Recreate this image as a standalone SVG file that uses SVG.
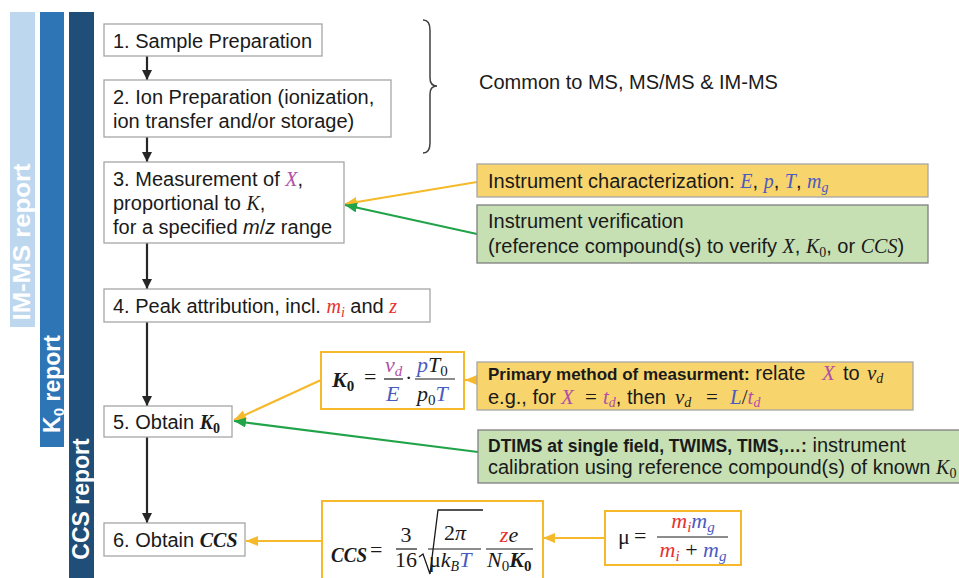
<svg xmlns="http://www.w3.org/2000/svg" width="959" height="578" viewBox="0 0 959 578">
<defs>
<style>
.box{fill:#fff;stroke:#a6a6a6;stroke-width:1.3}
.fbox{fill:#fff;stroke:#f6b92b;stroke-width:2}
.ybox{fill:#f8d46c;stroke:#a6a6a6;stroke-width:1.3}
.gbox{fill:#c6e0b4;stroke:#7f7f7f;stroke-width:1.3}
.t{font-family:"Liberation Sans",Arial,sans-serif;font-size:20px;fill:#1a1a1a}
.b{font-weight:bold}
.m{font-family:"Liberation Serif","Times New Roman",serif;font-style:italic}
.r{font-family:"Liberation Serif","Times New Roman",serif;font-style:normal}
.pu{fill:#b04fa6}
.bl{fill:#4a5bbf}
.rd{fill:#e8302f}
.lab{font-family:"Liberation Sans",Arial,sans-serif;font-size:23px;font-weight:bold;fill:#fff;text-anchor:middle}
.ka{stroke:#262626;stroke-width:2.2;fill:none}
.oa{stroke:#f6b92b;stroke-width:2.2;fill:none}
.ga{stroke:#21a349;stroke-width:2.2;fill:none}
.fl{stroke:#1a1a1a;stroke-width:1.2}
</style>
<marker id="ak" markerUnits="userSpaceOnUse" markerWidth="12" markerHeight="12" refX="10" refY="5" orient="auto"><path d="M0,0 L10,5 L0,10 Z" fill="#262626"/></marker>
<marker id="ao" markerUnits="userSpaceOnUse" markerWidth="14" markerHeight="12" refX="12" refY="5" orient="auto"><path d="M0,0 L12,5 L0,10 Z" fill="#f6b92b"/></marker>
<marker id="ag" markerUnits="userSpaceOnUse" markerWidth="14" markerHeight="12" refX="12" refY="5" orient="auto"><path d="M0,0 L12,5 L0,10 Z" fill="#21a349"/></marker>
</defs>
<rect width="959" height="578" fill="#fff"/>

<g id="bar-imms">
<rect x="10" y="12" width="25" height="315" fill="#bdd7ee"/>
<text class="lab" transform="translate(30,242) rotate(-90)" textLength="157" lengthAdjust="spacingAndGlyphs">IM-MS report</text>
</g>
<g id="bar-k0">
<rect x="40" y="12" width="24" height="435" fill="#2e75b6"/>
<text class="lab" transform="translate(60,384) rotate(-90)">K<tspan font-size="15" dy="4">0</tspan><tspan dy="-4"> report</tspan></text>
</g>
<g id="bar-ccs">
<rect x="69" y="12" width="25" height="566" fill="#1f4e79"/>
<text class="lab" transform="translate(89,499) rotate(-90)">CCS report</text>
</g>

<g id="brace">
<path d="M423,20 Q430,20 430,30 L430,78 Q430,86 437,86 Q430,86 430,94 L430,143 Q430,153 423,153" fill="none" stroke="#404040" stroke-width="1.5"/>
<text class="t" x="479" y="89">Common to MS, MS/MS &amp; IM-MS</text>
</g>

<g id="connectors">
<line class="ka" x1="147" y1="56" x2="147" y2="80" marker-end="url(#ak)"/>
<line class="ka" x1="147" y1="137" x2="147" y2="162" marker-end="url(#ak)"/>
<line class="ka" x1="147" y1="243" x2="147" y2="289" marker-end="url(#ak)"/>
<line class="ka" x1="147" y1="322" x2="147" y2="406" marker-end="url(#ak)"/>
<line class="ka" x1="147" y1="437" x2="147" y2="523" marker-end="url(#ak)"/>
<line class="oa" x1="477" y1="182" x2="345" y2="204" marker-end="url(#ao)"/>
<line class="ga" x1="477" y1="234" x2="345" y2="205" marker-end="url(#ag)"/>
<line class="oa" x1="321" y1="380" x2="234" y2="420" marker-end="url(#ao)"/>
<line class="ga" x1="478" y1="452" x2="234" y2="421" marker-end="url(#ag)"/>
<line class="oa" x1="477" y1="380" x2="465" y2="380" marker-end="url(#ao)"/>
<line class="oa" x1="322" y1="541" x2="246" y2="541" marker-end="url(#ao)"/>
<line class="oa" x1="605" y1="538" x2="543" y2="538" marker-end="url(#ao)"/>
</g>

<g id="step1">
<rect class="box" x="104" y="24" width="218" height="32"/>
<text class="t" x="113" y="48">1. Sample Preparation</text>
</g>
<g id="step2">
<rect class="box" x="104" y="80" width="287" height="57"/>
<text class="t" x="113" y="104">2. Ion Preparation (ionization,</text>
<text class="t" x="113" y="128">ion transfer and/or storage)</text>
</g>
<g id="step3">
<rect class="box" x="104" y="162" width="240" height="81"/>
<text class="t" x="113" y="186">3. Measurement of <tspan class="m pu">X</tspan>,</text>
<text class="t" x="113" y="210">proportional to <tspan class="m">K</tspan>,</text>
<text class="t" x="113" y="234">for a specified <tspan font-style="italic">m</tspan>/<tspan font-style="italic">z</tspan> range</text>
</g>
<g id="step4">
<rect class="box" x="104" y="289" width="326" height="33"/>
<text class="t" x="113" y="313">4. Peak attribution, incl. <tspan class="m rd">m</tspan><tspan class="m rd" font-size="14" dy="4">i</tspan><tspan dy="-4"> and </tspan><tspan class="m rd">z</tspan></text>
</g>
<g id="step5">
<rect class="box" x="104" y="406" width="128" height="31"/>
<text class="t" x="113" y="429">5. Obtain <tspan class="m b">K</tspan><tspan class="r b" font-size="14" dy="4">0</tspan></text>
</g>
<g id="step6">
<rect class="box" x="104" y="523" width="141" height="33"/>
<text class="t" x="113" y="547">6. Obtain <tspan class="m b">CCS</tspan></text>
</g>

<g id="instr-char">
<rect class="ybox" x="477" y="164" width="451" height="33"/>
<text class="t" x="488" y="188">Instrument characterization: <tspan class="m bl">E</tspan>, <tspan class="m bl">p</tspan>, <tspan class="m bl">T</tspan>, <tspan class="m bl">m</tspan><tspan class="m bl" font-size="14" dy="4">g</tspan></text>
</g>
<g id="instr-verif">
<rect class="gbox" x="477" y="205" width="451" height="58"/>
<text class="t" x="488" y="228">Instrument verification</text>
<text class="t" x="488" y="253">(reference compound(s) to verify <tspan class="m">X</tspan>, <tspan class="m">K</tspan><tspan class="r" font-size="14" dy="4">0</tspan><tspan dy="-4">, or </tspan><tspan class="m">CCS</tspan>)</text>
</g>

<g id="k0-formula">
<rect class="fbox" x="321" y="352" width="143" height="57"/>
<text class="m b" x="332" y="387" font-size="22" fill="#1a1a1a">K<tspan class="r b" font-size="15" dy="4">0</tspan></text>
<text class="r" x="364" y="384" font-size="22" fill="#1a1a1a">=</text>
<text class="m pu" x="385" y="372" font-size="22">v<tspan font-size="15" dy="4">d</tspan></text>
<line class="fl" x1="384" y1="379" x2="403" y2="379"/>
<text class="m bl" x="386" y="401" font-size="22">E</text>
<text class="r" x="405" y="385" font-size="22" fill="#1a1a1a">·</text>
<text class="m" x="417" y="372" font-size="22" fill="#1a1a1a"><tspan class="bl">p</tspan>T<tspan class="r" font-size="15" dy="4">0</tspan></text>
<line class="fl" x1="415" y1="379" x2="455" y2="379"/>
<text class="m" x="417" y="401" font-size="22" fill="#1a1a1a">p<tspan class="r" font-size="15" dy="4">0</tspan><tspan class="bl" dy="-4">T</tspan></text>
</g>

<g id="primary-method">
<rect class="ybox" x="477" y="362" width="436" height="48"/>
<text class="t" x="488" y="380"><tspan class="b" font-size="17">Primary method of measurment:</tspan> relate <tspan class="m pu" x="822" font-size="21">X</tspan><tspan x="843">to</tspan><tspan class="m" x="867" font-size="21">v</tspan><tspan class="m" font-size="14" dy="3">d</tspan></text>
<text class="t" x="488" y="404">e.g., for <tspan class="m pu" x="561" font-size="21">X</tspan><tspan class="r" x="585" font-size="21">=</tspan><tspan class="m pu" x="603" font-size="21">t</tspan><tspan class="m pu" font-size="14" dy="3">d</tspan><tspan dy="-3">, then </tspan><tspan class="m" x="675" font-size="21">v</tspan><tspan class="m" font-size="14" dy="3">d</tspan><tspan class="r" x="706" dy="-3" font-size="21">=</tspan><tspan class="m bl" x="730" font-size="21">L</tspan><tspan class="r" font-size="21">/</tspan><tspan class="m pu" font-size="21">t</tspan><tspan class="m pu" font-size="14" dy="3">d</tspan></text>
</g>

<g id="dtims">
<rect class="gbox" x="478" y="430" width="490" height="53"/>
<text class="t" x="488" y="452"><tspan class="b" font-size="17.5">DTIMS at single field, TWIMS, TIMS,…:</tspan> instrument</text>
<text class="t" x="488" y="474">calibration using reference compound(s) of known <tspan class="m">K</tspan><tspan class="r" font-size="14" dy="4">0</tspan></text>
</g>

<g id="ccs-formula">
<rect class="fbox" x="322" y="501" width="221" height="82"/>
<text class="m b" x="331" y="562" font-size="21" fill="#1a1a1a" textLength="36" lengthAdjust="spacingAndGlyphs">CCS</text>
<text class="r" x="370" y="557" font-size="22" fill="#1a1a1a">=</text>
<text class="r" x="406" y="542" font-size="22" fill="#1a1a1a" text-anchor="middle">3</text>
<line class="fl" x1="396" y1="549" x2="417" y2="549"/>
<text class="r" x="406" y="567" font-size="22" fill="#1a1a1a" text-anchor="middle">16</text>
<path d="M419,557 L423,554 L430,574 L438,510 L483,510" fill="none" stroke="#1a1a1a" stroke-width="1.3"/>
<text class="r" x="455" y="540" font-size="22" fill="#1a1a1a" text-anchor="middle">2<tspan class="m">π</tspan></text>
<line class="fl" x1="428" y1="549" x2="481" y2="549"/>
<text class="r" x="429" y="567" font-size="22" fill="#1a1a1a">μ<tspan class="m">k</tspan><tspan class="m" font-size="14" dy="4">B</tspan><tspan class="m bl" dy="-4">T</tspan></text>
<text class="m" x="509" y="542" font-size="22" fill="#1a1a1a" text-anchor="middle"><tspan class="rd">z</tspan>e</text>
<line class="fl" x1="486" y1="549" x2="533" y2="549"/>
<text class="m" x="487" y="567" font-size="22" fill="#1a1a1a">N<tspan class="r" font-size="15" dy="4">0</tspan><tspan class="b" dy="-4">K</tspan><tspan class="r b" font-size="15" dy="4">0</tspan></text>
</g>

<g id="mu-formula">
<rect class="fbox" x="605" y="511" width="136" height="54"/>
<text class="r" x="618" y="544" font-size="22" fill="#1a1a1a">μ</text>
<text class="r" x="634" y="543" font-size="22" fill="#1a1a1a">=</text>
<text class="m" x="693" y="528" font-size="22" text-anchor="middle"><tspan class="rd">m</tspan><tspan class="rd" font-size="15" dy="4">i</tspan><tspan class="bl" dy="-4">m</tspan><tspan class="bl" font-size="15" dy="4">g</tspan></text>
<line class="fl" x1="657" y1="537" x2="728" y2="537"/>
<text class="m" x="693" y="557" font-size="22" text-anchor="middle"><tspan class="rd">m</tspan><tspan class="rd" font-size="15" dy="4">i</tspan><tspan class="r" fill="#1a1a1a" dy="-4"> + </tspan><tspan class="bl">m</tspan><tspan class="bl" font-size="15" dy="4">g</tspan></text>
</g>
</svg>
